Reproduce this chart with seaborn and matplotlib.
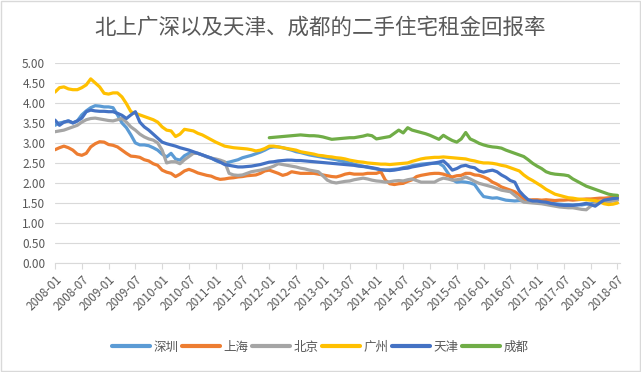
import pandas as pd
import matplotlib
matplotlib.use('Agg')
import matplotlib.pyplot as plt
import seaborn as sns

# monthly rental yield (%), 2008-01 .. 2018-07
shenzhen = [3.44, 3.50, 3.52, 3.55, 3.50, 3.55, 3.70, 3.80, 3.88, 3.93, 3.92, 3.90,
            3.90, 3.88, 3.70, 3.50, 3.38, 3.20, 3.00, 2.95, 2.95, 2.93, 2.88, 2.82,
            2.72, 2.65, 2.74, 2.60, 2.57, 2.68, 2.74, 2.75, 2.74, 2.70, 2.66, 2.62,
            2.56, 2.52, 2.50, 2.52, 2.55, 2.58, 2.63, 2.66, 2.69, 2.73, 2.77, 2.82,
            2.88, 2.90, 2.90, 2.88, 2.85, 2.82, 2.78, 2.76, 2.73, 2.70, 2.68, 2.66,
            2.64, 2.62, 2.60, 2.58, 2.55, 2.53, 2.50, 2.47, 2.44, 2.42, 2.39, 2.37,
            2.35, 2.33, 2.32, 2.33, 2.34, 2.35, 2.38, 2.40, 2.43, 2.45, 2.47, 2.48,
            2.49, 2.49, 2.49, 2.42, 2.25, 2.08, 2.02, 2.03, 2.02, 2.00, 1.96, 1.80,
            1.66, 1.64, 1.62, 1.63, 1.60, 1.57, 1.56, 1.55, 1.56, 1.55, 1.56, 1.55,
            1.54, 1.53, 1.52, 1.50, 1.48, 1.47, 1.46, 1.46, 1.45, 1.46, 1.45, 1.47,
            1.48, 1.50, 1.52, 1.55, 1.57, 1.58, 1.58]
shanghai = [2.83, 2.88, 2.92, 2.88, 2.82, 2.72, 2.69, 2.74, 2.90, 2.98, 3.03, 3.02,
            2.96, 2.94, 2.90, 2.82, 2.74, 2.67, 2.66, 2.64, 2.58, 2.55, 2.48, 2.44,
            2.32, 2.27, 2.24, 2.16, 2.22, 2.30, 2.34, 2.30, 2.25, 2.22, 2.19, 2.17,
            2.12, 2.09, 2.10, 2.12, 2.13, 2.15, 2.16, 2.18, 2.19, 2.20, 2.24, 2.30,
            2.32, 2.28, 2.24, 2.19, 2.22, 2.28, 2.26, 2.24, 2.24, 2.24, 2.24, 2.22,
            2.20, 2.18, 2.16, 2.15, 2.18, 2.22, 2.24, 2.22, 2.22, 2.22, 2.24, 2.24,
            2.24, 2.28, 2.07, 1.98, 1.96, 1.98, 1.99, 2.04, 2.08, 2.16, 2.19, 2.21,
            2.23, 2.24, 2.24, 2.22, 2.18, 2.15, 2.18, 2.19, 2.24, 2.24, 2.20, 2.19,
            2.15, 2.10, 2.02, 1.97, 1.90, 1.86, 1.82, 1.78, 1.70, 1.60, 1.57, 1.58,
            1.58, 1.57, 1.58, 1.57, 1.56, 1.57, 1.57, 1.58, 1.57, 1.58, 1.59, 1.60,
            1.60, 1.61, 1.62, 1.62, 1.63, 1.64, 1.65]
beijing = [3.28, 3.30, 3.32, 3.36, 3.40, 3.44, 3.52, 3.58, 3.61, 3.62, 3.60, 3.58,
           3.56, 3.55, 3.58, 3.61, 3.52, 3.40, 3.32, 3.22, 3.15, 3.10, 3.07, 3.00,
           2.82, 2.50, 2.53, 2.53, 2.48, 2.58, 2.66, 2.74, 2.74, 2.70, 2.65, 2.62,
           2.60, 2.57, 2.53, 2.24, 2.20, 2.19, 2.20, 2.24, 2.28, 2.30, 2.32, 2.35,
           2.38, 2.42, 2.48, 2.46, 2.44, 2.42, 2.40, 2.37, 2.35, 2.32, 2.30, 2.28,
           2.18, 2.07, 2.02, 2.00, 2.02, 2.04, 2.05, 2.08, 2.10, 2.12, 2.10, 2.07,
           2.05, 2.04, 2.02, 2.03, 2.05, 2.06, 2.05, 2.08, 2.10, 2.06, 2.02, 2.02,
           2.02, 2.02, 2.08, 2.12, 2.10, 2.07, 2.08, 2.10, 2.15, 2.10, 2.04, 1.99,
           1.96, 1.93, 1.90, 1.86, 1.82, 1.80, 1.78, 1.69, 1.60, 1.52, 1.51, 1.50,
           1.49, 1.48, 1.46, 1.44, 1.42, 1.40, 1.39, 1.38, 1.38, 1.36, 1.34, 1.33,
           1.42, 1.49, 1.51, 1.52, 1.53, 1.55, 1.57]
guangzhou = [4.27, 4.38, 4.40, 4.35, 4.33, 4.33, 4.38, 4.45, 4.60, 4.50, 4.40, 4.24,
             4.22, 4.25, 4.25, 4.15, 3.98, 3.78, 3.74, 3.70, 3.66, 3.62, 3.58, 3.52,
             3.40, 3.32, 3.30, 3.16, 3.22, 3.34, 3.32, 3.30, 3.24, 3.20, 3.14, 3.08,
             3.02, 2.97, 2.92, 2.90, 2.88, 2.87, 2.86, 2.85, 2.83, 2.80, 2.82, 2.86,
             2.92, 2.92, 2.90, 2.88, 2.86, 2.84, 2.82, 2.78, 2.76, 2.74, 2.72, 2.69,
             2.68, 2.66, 2.65, 2.63, 2.62, 2.60, 2.57, 2.55, 2.53, 2.52, 2.50, 2.49,
             2.48, 2.47, 2.47, 2.46, 2.47, 2.48, 2.49, 2.50, 2.54, 2.57, 2.60, 2.62,
             2.63, 2.64, 2.64, 2.65, 2.64, 2.63, 2.62, 2.61, 2.60, 2.57, 2.55, 2.52,
             2.50, 2.50, 2.49, 2.47, 2.44, 2.42, 2.38, 2.34, 2.30, 2.20, 2.12, 2.06,
             1.99, 1.92, 1.84, 1.78, 1.72, 1.69, 1.66, 1.63, 1.62, 1.60, 1.59, 1.58,
             1.57, 1.56, 1.53, 1.48, 1.46, 1.47, 1.50]
tianjin = [3.57, 3.44, 3.52, 3.55, 3.50, 3.55, 3.62, 3.78, 3.82, 3.80, 3.79, 3.79,
           3.78, 3.78, 3.74, 3.69, 3.61, 3.70, 3.78, 3.52, 3.40, 3.32, 3.22, 3.12,
           3.02, 2.98, 2.95, 2.92, 2.88, 2.85, 2.82, 2.78, 2.74, 2.70, 2.66, 2.62,
           2.57, 2.52, 2.46, 2.44, 2.42, 2.40, 2.40, 2.41, 2.42, 2.44, 2.46, 2.49,
           2.52, 2.53, 2.55, 2.56, 2.57, 2.57, 2.56, 2.56, 2.55, 2.54, 2.53, 2.52,
           2.51, 2.50, 2.49, 2.48, 2.47, 2.46, 2.45, 2.44, 2.42, 2.41, 2.40, 2.38,
           2.36, 2.33, 2.32, 2.31, 2.32, 2.34, 2.36, 2.37, 2.40, 2.42, 2.44, 2.46,
           2.48, 2.50, 2.52, 2.55, 2.45, 2.32, 2.36, 2.42, 2.44, 2.40, 2.38, 2.30,
           2.27, 2.30, 2.32, 2.28, 2.20, 2.14, 2.06, 2.02, 1.80, 1.68, 1.58, 1.55,
           1.55, 1.53, 1.52, 1.49, 1.47, 1.45, 1.44, 1.44, 1.44, 1.45, 1.47, 1.49,
           1.46, 1.42, 1.50, 1.57, 1.59, 1.61, 1.62]
# chengdu series starts in 2012-01 (month 48)
chengdu = [3.13, 3.14, 3.15, 3.16, 3.17, 3.18, 3.19, 3.20, 3.19, 3.18, 3.18, 3.17,
           3.15, 3.12, 3.09, 3.10, 3.11, 3.12, 3.13, 3.13, 3.15, 3.17, 3.20, 3.18,
           3.10, 3.12, 3.14, 3.16, 3.24, 3.32, 3.25, 3.38, 3.32, 3.29, 3.26, 3.23,
           3.19, 3.14, 3.09, 3.19, 3.12, 3.06, 3.02, 3.10, 3.26, 3.10, 3.05, 2.99,
           2.95, 2.92, 2.90, 2.89, 2.87, 2.82, 2.78, 2.74, 2.70, 2.66, 2.58, 2.49,
           2.42, 2.36, 2.28, 2.24, 2.22, 2.21, 2.20, 2.18, 2.10, 2.04, 1.98, 1.92,
           1.88, 1.84, 1.80, 1.76, 1.72, 1.70, 1.69]

cities = ['深圳', '上海', '北京', '广州', '天津', '成都']
colors = ['#5B9BD5', '#ED7D31', '#A5A5A5', '#FFC000', '#4472C4', '#70AD47']
tick_labels = ['2008-01', '2008-07', '2009-01', '2009-07', '2010-01', '2010-07',
               '2011-01', '2011-07', '2012-01', '2012-07', '2013-01', '2013-07',
               '2014-01', '2014-07', '2015-01', '2015-07', '2016-01', '2016-07',
               '2017-01', '2017-07', '2018-01', '2018-07']

# long table: month index, city, value
series = [shenzhen, shanghai, beijing, guangzhou, tianjin, chengdu]
rows = []
for city, vals in zip(cities, series):
    start = 127 - len(vals)
    for i, v in enumerate(vals):
        rows.append({'month': start + i, 'city': city, 'rate': v})
df = pd.DataFrame(rows)

sns.set_style('white')
plt.rcParams['font.family'] = ['Noto Sans CJK SC', 'DejaVu Sans']

grey = '#595959'
fig = plt.figure(figsize=(6.41, 3.72), dpi=100)
ax = fig.add_axes([0.0858, 0.293, 0.881, 0.538])

sns.lineplot(data=df, x='month', y='rate', hue='city', hue_order=cities,
             palette=colors, linewidth=2.3, estimator=None, ax=ax)

ax.set_xlim(0, 126.5)
ax.set_ylim(0, 5)
ax.set_yticks([i * 0.5 for i in range(11)])
ax.set_yticklabels(['%.2f' % (i * 0.5) for i in range(11)])
ax.set_xticks(range(0, 127, 6))
ax.set_xticklabels(tick_labels, rotation=45, ha='right', rotation_mode='anchor')
ax.set_xlabel('')
ax.set_ylabel('')
ax.grid(axis='y', color='#D9D9D9', linewidth=0.8)
ax.set_axisbelow(True)
for s in ['top', 'right', 'left']:
    ax.spines[s].set_visible(False)
ax.spines['bottom'].set_color('#D9D9D9')
ax.tick_params(axis='y', length=0, pad=7, labelsize=8.5, labelcolor=grey)
ax.tick_params(axis='x', length=4, color='#D9D9D9', pad=3, labelsize=8.5,
               labelcolor=grey, bottom=True)

fig.suptitle('北上广深以及天津、成都的二手住宅租金回报率', y=0.925, va='center',
             fontsize=15.5, color=grey, fontweight='light')

sns.move_legend(ax, 'center', bbox_to_anchor=(0.5, 0.067),
                bbox_transform=fig.transFigure, ncol=6, frameon=False, title=None,
                fontsize=9, handlelength=3.0, handletextpad=0.3, columnspacing=0.3,
                labelcolor=grey)
for h in ax.get_legend().get_lines():
    h.set_linewidth(3)

fig.patches.append(plt.Rectangle((0.002, 0.002), 0.996, 0.995, transform=fig.transFigure,
                                 fill=False, edgecolor='#D9D9D9', linewidth=1))

fig.savefig('out.png', dpi=100)
